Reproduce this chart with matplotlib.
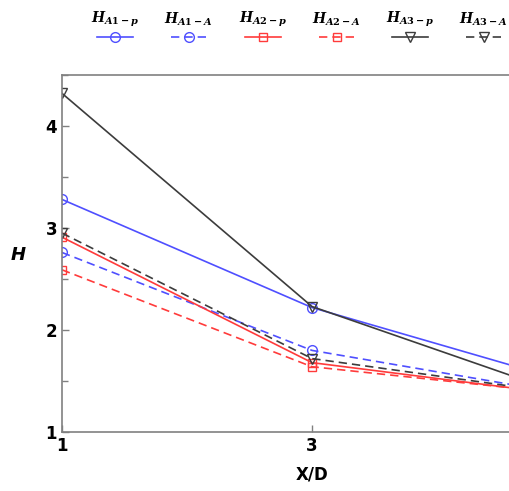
import matplotlib.pyplot as plt
from matplotlib.lines import Line2D
from matplotlib.ticker import MultipleLocator

xd = [1, 3, 5]
h_a1_p = [3.28, 2.22, 1.51]
h_a1_a = [2.76, 1.80, 1.38]
h_a2_p = [2.91, 1.68, 1.37]
h_a2_a = [2.59, 1.64, 1.38]
h_a3_p = [4.32, 2.23, 1.38]
h_a3_a = [2.95, 1.72, 1.38]
labels = [r'$H_{A1-p}$', r'$H_{A1-A}$', r'$H_{A2-p}$',
          r'$H_{A2-A}$', r'$H_{A3-p}$', r'$H_{A3-A}$']

blue = '#4f4fff'
red = '#ff3b3b'
dark = '#3c3c3c'
series = [
    (h_a1_p, blue, '-', 'o', 7),
    (h_a1_a, blue, '--', 'o', 7),
    (h_a2_p, red, '-', 's', 5.5),
    (h_a2_a, red, '--', 's', 5.5),
    (h_a3_p, dark, '-', 'v', 7.5),
    (h_a3_a, dark, '--', 'v', 7.5),
]

plt.rcParams['mathtext.fontset'] = 'custom'
plt.rcParams['mathtext.it'] = 'DejaVu Serif:bold:italic'
plt.rcParams['mathtext.rm'] = 'DejaVu Serif:bold'
plt.rcParams['mathtext.bf'] = 'DejaVu Serif:bold'

fig = plt.figure(figsize=(5.1, 4.91), dpi=100)
ax = fig.add_axes([62 / 510, 59 / 491, 500 / 510, 357 / 491])

for (vals, c, ls, m, ms) in series:
    ax.plot(xd, vals, color=c, linestyle=ls, marker=m, markersize=ms,
            markerfacecolor='none', markeredgecolor=c, linewidth=1.2,
            dashes=(5, 3) if ls == '--' else (None, None))

ax.set_xlim(1, 5)
ax.set_ylim(1, 4.5)
ax.set_xticks([1, 3])
ax.yaxis.set_major_locator(MultipleLocator(1))
ax.yaxis.set_minor_locator(MultipleLocator(0.5))
ax.tick_params(which='both', direction='in', colors='#808080', labelcolor='black',
               labelsize=12, width=1)
ax.tick_params(which='major', length=5)
ax.tick_params(which='minor', length=4)
for t in ax.get_xticklabels() + ax.get_yticklabels():
    t.set_fontweight('bold')
for s in ax.spines.values():
    s.set_color('#808080')
    s.set_linewidth(1.2)

ax.set_xlabel('X/D', fontsize=12, fontweight='bold', labelpad=8)
fig.text(18 / 510, 1 - 255 / 491, 'H', fontsize=13, fontweight='bold', style='italic',
         ha='center', va='center')

# legend: label above handle
cx = [115, 189, 263, 337, 410, 484]
for i, (vals, c, ls, m, ms) in enumerate(series):
    x0 = cx[i] / 510
    fig.text(x0, 1 - 19 / 491, labels[i], fontsize=10, ha='center', va='center')
    ln = Line2D([x0 - 18 / 510, x0 + 18 / 510], [1 - 37 / 491, 1 - 37 / 491],
                transform=fig.transFigure, color=c, linestyle=ls, linewidth=1.2,
                dashes=(5, 3) if ls == '--' else (None, None))
    mk = Line2D([x0], [1 - 37 / 491], transform=fig.transFigure, color=c,
                marker=m, markersize=ms, markerfacecolor='none', markeredgecolor=c)
    fig.add_artist(ln)
    fig.add_artist(mk)

fig.savefig('out.png', dpi=100)
